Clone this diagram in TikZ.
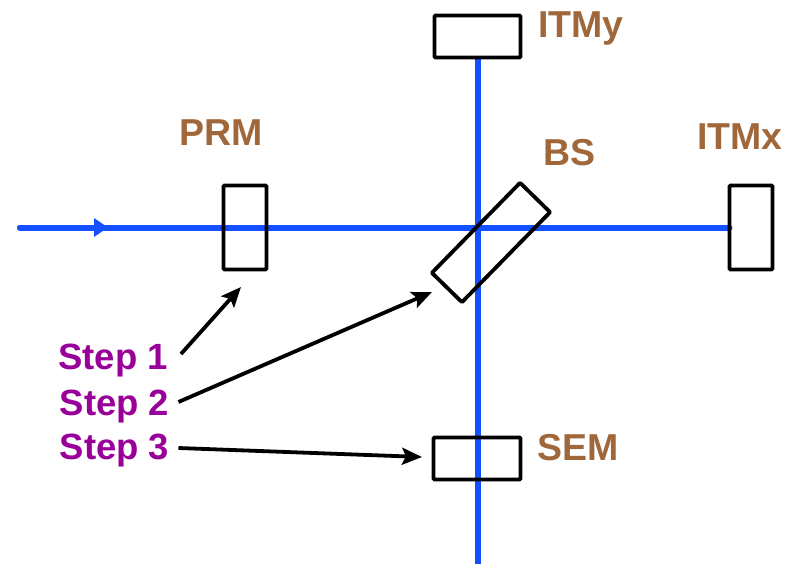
\documentclass[tikz,border=0pt]{standalone}
\usepackage{fontspec}
\setmainfont{Liberation Sans}
\usetikzlibrary{arrows.meta,backgrounds}
\definecolor{beam}{HTML}{1450FF}
\definecolor{lbl}{HTML}{A0683A}
\definecolor{stp}{HTML}{990099}
\tikzset{
  mirror/.style={draw=black,line width=3.8pt,rounded corners=1pt,inner sep=0pt,outer sep=0pt,minimum width=#1},
  mlabel/.style={text=lbl,font=\fontsize{37.5}{37.5}\selectfont\bfseries,inner sep=0pt},
  steplabel/.style={text=stp,font=\fontsize{36.5}{36.5}\selectfont\bfseries,inner xsep=10pt,inner ysep=0pt},
  beamline/.style={draw=beam,line width=6pt},
  pointer/.style={draw=black,line width=3.8pt,-{Stealth[length=20pt,width=17pt,inset=4pt]}}
}
\begin{document}
\begin{tikzpicture}[x=1pt,y=-1pt]
\useasboundingbox (0,0) rectangle (792,564);
\node[mirror=86pt,minimum height=42pt] (itmy) at (477.5,36.5) {};
\node[mirror=43pt,minimum height=84pt] (prm) at (245,227.5) {};
\node[mirror=43pt,minimum height=84pt] (itmx) at (751,227.5) {};
\node[mirror=87pt,minimum height=42pt] (sem) at (477,458.5) {};
\node[mirror=126pt,minimum height=42pt,rotate=45.6] (bs) at (491,242.5) {};
\node[mlabel,anchor=base west] (titmy) at (538,38) {ITMy};
\node[mlabel,anchor=base west] (tprm) at (179,146) {PRM};
\node[mlabel,anchor=base west] (tbs) at (543,166) {BS};
\node[mlabel,anchor=base east] (titmx) at (783,150) {ITMx};
\node[mlabel,anchor=base west] (tsem) at (537,460) {SEM};
\node[steplabel] (s1) at (113,361) {Step 1};
\node[steplabel] (s2) at (114.5,406.5) {Step 2};
\node[steplabel] (s3) at (114.5,451) {Step 3};
\coordinate (start) at (20,227.5);
\coordinate (mid) at (108,227.5);
\coordinate (bottom) at (477.5,564);
\coordinate (a1) at (241,287);
\coordinate (a2) at (432,292);
\coordinate (a3) at (422,457);
\begin{scope}[on background layer]
\draw[beamline,line cap=round] (start) -- (itmx.west);
\draw[beamline] (itmy.south) -- (bottom);
\draw[beam,line width=6pt,line cap=round,-{Triangle[length=14pt,width=18pt]}] (start) -- (mid);
\end{scope}
\draw[pointer] ([xshift=3pt,yshift=7pt]s1.east) -- (a1);
\draw[pointer] ([xshift=-1pt,yshift=4.5pt]s2.east) -- (a2);
\draw[pointer] ([xshift=-1pt,yshift=3pt]s3.east) -- (a3);
\end{tikzpicture}
\end{document}
